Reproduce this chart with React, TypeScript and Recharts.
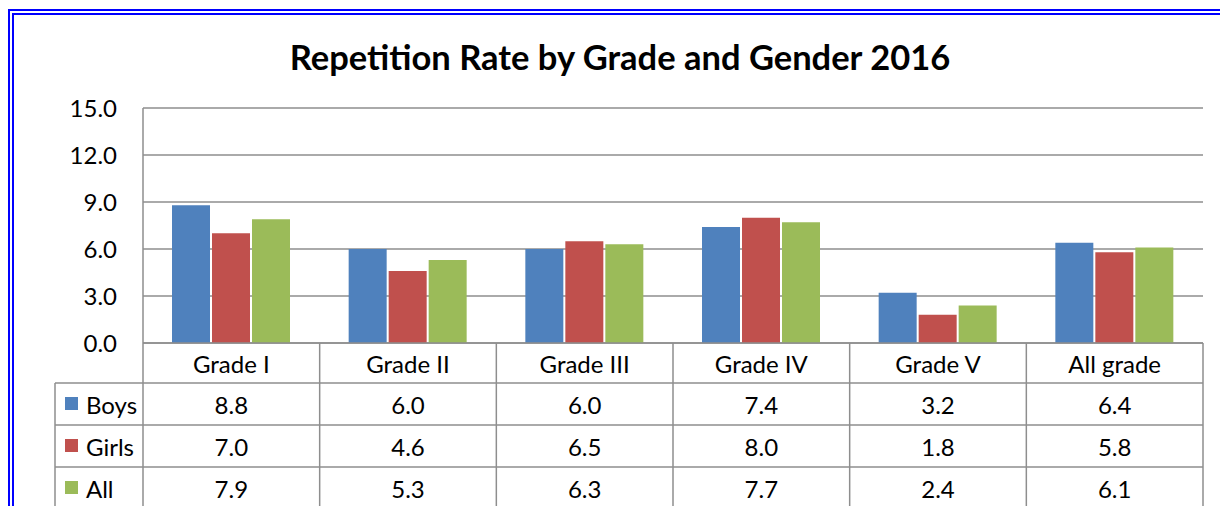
import { BarChart, Bar, XAxis, YAxis, CartesianGrid } from "recharts";

const categories = ["Grade I", "Grade II", "Grade III", "Grade IV", "Grade V", "All grade"];
const boys = [8.8, 6.0, 6.0, 7.4, 3.2, 6.4];
const girls = [7.0, 4.6, 6.5, 8.0, 1.8, 5.8];
const allKids = [7.9, 5.3, 6.3, 7.7, 2.4, 6.1];
const yTicks = [0, 3, 6, 9, 12, 15];

const series = [
  { key: "boys", name: "Boys", color: "#4F81BD", values: boys },
  { key: "girls", name: "Girls", color: "#C0504D", values: girls },
  { key: "all", name: "All", color: "#9BBB59", values: allKids },
];

const data = categories.map((name, i) => ({
  name,
  boys: boys[i],
  girls: girls[i],
  all: allKids[i],
}));

const FONT = "Lato, 'Open Sans', sans-serif";
const LINE = "#8E8E8E";
const W = 1220;
const H = 506;
const PLOT_LEFT = 143;
const PLOT_RIGHT = 1203;
const TABLE_LEFT = 55;
const COL = (PLOT_RIGHT - PLOT_LEFT) / categories.length;
const ROW_LINES = [40, 82, 124];
const ROW_MID = [61, 103, 145];

function TableTick(props: any) {
  const { x, y, payload, index } = props;
  const i = payload?.index ?? index;
  return (
    <g>
      {i === 0 && (
        <g>
          {ROW_LINES.map((dy) => (
            <line key={dy} x1={TABLE_LEFT} x2={PLOT_RIGHT} y1={y + dy} y2={y + dy} stroke={LINE} strokeWidth={1.5} />
          ))}
          <line x1={TABLE_LEFT} x2={TABLE_LEFT} y1={y + 40} y2={y + 200} stroke={LINE} strokeWidth={1.5} />
          <line x1={x - COL / 2} x2={x - COL / 2} y1={y} y2={y + 200} stroke={LINE} strokeWidth={1.5} />
          {series.map((s, r) => (
            <g key={s.key}>
              <rect x={65} y={y + ROW_MID[r] - 7} width={13} height={13} fill={s.color} />
              <text x={86} y={y + ROW_MID[r]} dominantBaseline="central" fontSize={24} fontFamily={FONT} fill="#000">
                {s.name}
              </text>
            </g>
          ))}
        </g>
      )}
      <line x1={x + COL / 2} x2={x + COL / 2} y1={y} y2={y + 200} stroke={LINE} strokeWidth={1.5} />
      <text x={x} y={y + 20} textAnchor="middle" dominantBaseline="central" fontSize={24} fontFamily={FONT} fill="#000">
        {payload.value}
      </text>
      {series.map((s, r) => (
        <text key={s.key} x={x} y={y + ROW_MID[r]} textAnchor="middle" dominantBaseline="central" fontSize={24} fontFamily={FONT} fill="#000">
          {s.values[i].toFixed(1)}
        </text>
      ))}
    </g>
  );
}

export default function App() {
  return (
    <div style={{ position: "fixed", left: 0, top: 0, width: W, height: H, overflow: "hidden", background: "#fff" }}>
      <div
        style={{
          position: "absolute",
          left: 8,
          top: 9,
          width: 1300,
          height: 600,
          border: "6px double #0000FF",
        }}
      />
      <div
        style={{
          position: "absolute",
          left: 0,
          width: 1240,
          top: 39,
          lineHeight: "36px",
          textAlign: "center",
          fontFamily: FONT,
          fontWeight: 700,
          fontSize: 34.5,
          color: "#000",
        }}
      >
        Repetition Rate by Grade and Gender 2016
      </div>
      <div style={{ position: "absolute", left: 0, top: 0 }}>
        <BarChart
          width={W}
          height={H}
          data={data}
          margin={{ top: 108, right: W - PLOT_RIGHT, bottom: 0, left: 0 }}
          barSize={38}
          barGap={2}
        >
          <CartesianGrid vertical={false} stroke={LINE} strokeWidth={1.5} />
          <YAxis
            width={PLOT_LEFT}
            domain={[0, 15]}
            ticks={yTicks}
            interval={0}
            tickFormatter={(v: number) => v.toFixed(1)}
            tickLine={false}
            tickSize={0}
            tickMargin={26}
            axisLine={{ stroke: LINE, strokeWidth: 1.5 }}
            tick={{ fontSize: 24, fontFamily: FONT, fill: "#000" }}
          />
          <XAxis
            dataKey="name"
            height={163}
            interval={0}
            tickLine={false}
            tickSize={0}
            tickMargin={0}
            axisLine={{ stroke: LINE, strokeWidth: 1.5 }}
            tick={<TableTick />}
          />
          {series.map((s) => (
            <Bar key={s.key} dataKey={s.key} name={s.name} fill={s.color} isAnimationActive={false} />
          ))}
        </BarChart>
      </div>
    </div>
  );
}
